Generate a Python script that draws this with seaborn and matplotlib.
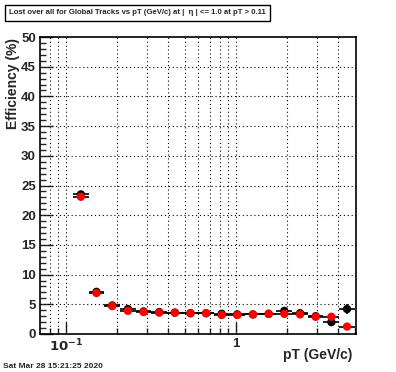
import matplotlib
matplotlib.use("Agg")
import matplotlib.pyplot as plt
import matplotlib.ticker as mticker
import seaborn as sns
import numpy as np
import pandas as pd

# bin edges in pT (GeV/c), log-spaced
pt_edges = [0.110, 0.136, 0.168, 0.208, 0.257, 0.318, 0.393, 0.485, 0.600,
            0.741, 0.916, 1.13, 1.40, 1.73, 2.14, 2.65, 3.27, 4.05, 5.00]

eff_black = [23.5, 7.1, 4.8, 4.2, 3.8, 3.7, 3.6, 3.5, 3.5,
             3.4, 3.3, 3.3, 3.4, 3.9, 3.5, 3.0, 2.0, 4.2]
err_black = [0.25, 0.2, 0.15, 0.15, 0.15, 0.15, 0.15, 0.15, 0.15,
             0.15, 0.15, 0.15, 0.15, 0.2, 0.2, 0.25, 0.4, 0.8]
eff_red = [23.1, 6.9, 4.7, 3.9, 3.7, 3.6, 3.6, 3.5, 3.5,
           3.2, 3.2, 3.3, 3.4, 3.4, 3.3, 2.9, 2.9, 1.25]

edges = np.array(pt_edges)
centers = np.sqrt(edges[:-1] * edges[1:])
df = pd.DataFrame({"pt": centers, "black": eff_black, "red": eff_red,
                   "xlo": centers - edges[:-1], "xhi": edges[1:] - centers})

sns.set_style("white")
plt.rcParams["font.family"] = ["Liberation Sans", "DejaVu Sans"]

fig = plt.figure(figsize=(3.96, 3.72), dpi=100)
ax = fig.add_axes([40 / 396, 38 / 372, 316 / 396, 297 / 372])

# error bars (black lines) for both series
ax.errorbar(df["pt"], df["black"], xerr=[df["xlo"], df["xhi"]], yerr=err_black,
            fmt="none", ecolor="black", elinewidth=1.2, capsize=0, zorder=3)
ax.errorbar(df["pt"], df["red"], xerr=[df["xlo"], df["xhi"]],
            fmt="none", ecolor="black", elinewidth=1.2, capsize=0, zorder=3)
sns.scatterplot(data=df, x="pt", y="black", color="black", s=36,
                edgecolor="none", ax=ax, zorder=4)
sns.scatterplot(data=df, x="pt", y="red", color="#ff0000", s=36,
                edgecolor="none", ax=ax, zorder=5)

ax.set_xscale("log")
ax.set_xlim(0.0703, 5.08)
ax.set_ylim(0, 50)

ax.xaxis.set_major_locator(mticker.FixedLocator([0.1, 1]))
ax.xaxis.set_minor_locator(mticker.LogLocator(base=10, subs=np.arange(2, 10)))
ax.xaxis.set_minor_formatter(mticker.NullFormatter())
ax.set_xticklabels([r"$\mathbf{10^{-1}}$", "1"])
ax.yaxis.set_major_locator(mticker.MultipleLocator(5))
ax.yaxis.set_minor_locator(mticker.MultipleLocator(1))

grid_x = [0.08, 0.09, 0.1, 0.2, 0.3, 0.4, 0.5, 0.6, 0.7, 0.8, 0.9,
          1, 2, 3, 4]
for gx in grid_x:
    ax.axvline(gx, color="black", lw=0.8, ls=(0, (1, 2.5)), zorder=1)
for gy in range(5, 50, 5):
    ax.axhline(gy, color="black", lw=0.8, ls=(0, (1, 2.5)), zorder=1)

ax.tick_params(axis="both", which="major", direction="in", length=9, width=1,
               labelsize=9.5, pad=3)
ax.tick_params(axis="both", which="minor", direction="in", length=4.5, width=1)
ax.tick_params(left=True, bottom=True, right=False, top=False, which="both")
for lab in ax.get_yticklabels() + ax.get_xticklabels():
    lab.set_fontweight("bold")
for sp in ax.spines.values():
    sp.set_color("black")
    sp.set_linewidth(1.2)

ax.set_xlabel("pT (GeV/c)", fontsize=10, fontweight="bold", ha="right", va="center")
ax.xaxis.set_label_coords(0.99, -0.072)
ax.set_ylabel("Efficiency (%)", fontsize=10, fontweight="bold", ha="right", va="center")
ax.yaxis.set_label_coords(-0.085, 0.995)

fig.text(9 / 396, 1 - 13 / 372,
         "Lost over all for Global Tracks vs pT (GeV/c) at |  \u03b7 | <= 1.0 at pT > 0.11",
         fontsize=5.6, fontweight="bold", va="center", ha="left",
         bbox=dict(boxstyle="square,pad=0.55", fc="white", ec="black", lw=1))
fig.text(3 / 396, 1 - 366 / 372, "Sat Mar 28 15:21:25 2020",
         fontsize=6, fontweight="bold", va="center", ha="left")

fig.savefig("out.png", dpi=100)
